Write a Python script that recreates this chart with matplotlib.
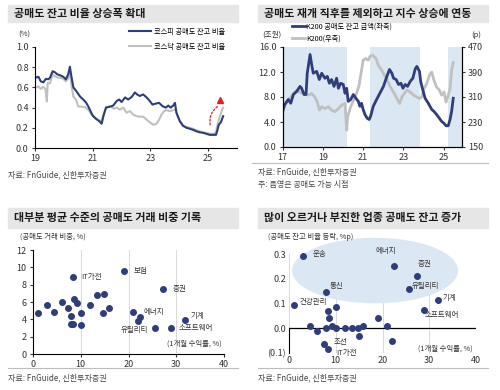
import numpy as np
import matplotlib.pyplot as plt
from matplotlib.patches import Rectangle, Ellipse
from matplotlib.lines import Line2D

plt.rcParams['font.family'] = ['Noto Sans CJK KR', 'DejaVu Sans']
plt.rcParams['axes.unicode_minus'] = False

# --- chart 1: short balance ratio (%), KOSPI / KOSDAQ
kospi_t = [2019.00, 2019.12, 2019.20, 2019.29, 2019.38, 2019.46, 2019.52, 2019.61, 2019.69, 2019.77,
           2019.87, 2019.98, 2020.07, 2020.15, 2020.21, 2020.26, 2020.33, 2020.44, 2020.56, 2020.67,
           2020.77, 2020.85, 2020.90, 2021.00, 2021.11, 2021.23, 2021.31, 2021.37, 2021.46, 2021.60,
           2021.71, 2021.83, 2021.92, 2022.00, 2022.12, 2022.23, 2022.35, 2022.46, 2022.54, 2022.63,
           2022.75, 2022.87, 2022.98, 2023.07, 2023.19, 2023.30, 2023.42, 2023.53, 2023.62, 2023.70,
           2023.79, 2023.85, 2023.90, 2024.02, 2024.13, 2024.25, 2024.37, 2024.48, 2024.60, 2024.71,
           2024.83, 2024.94, 2025.06, 2025.17, 2025.27, 2025.31, 2025.37, 2025.44, 2025.50, 2025.52]
kospi_v = [0.695, 0.705, 0.66, 0.65, 0.685, 0.68, 0.695, 0.76, 0.75, 0.73,
           0.72, 0.705, 0.68, 0.73, 0.805, 0.71, 0.60, 0.56, 0.51, 0.48,
           0.45, 0.41, 0.38, 0.32, 0.29, 0.265, 0.24, 0.315, 0.40, 0.41,
           0.42, 0.465, 0.48, 0.455, 0.50, 0.48, 0.505, 0.55, 0.53, 0.515,
           0.53, 0.50, 0.465, 0.43, 0.44, 0.447, 0.414, 0.40, 0.42, 0.40,
           0.42, 0.447, 0.35, 0.265, 0.22, 0.20, 0.19, 0.18, 0.165, 0.155,
           0.15, 0.14, 0.13, 0.13, 0.13, 0.165, 0.23, 0.255, 0.30, 0.315]

kosdaq_t = [2019.00, 2019.12, 2019.20, 2019.29, 2019.36, 2019.41, 2019.44, 2019.52, 2019.61, 2019.69,
            2019.77, 2019.87, 2019.98, 2020.07, 2020.15, 2020.21, 2020.27, 2020.33, 2020.42, 2020.50,
            2020.62, 2020.73, 2020.85, 2020.96, 2021.08, 2021.19, 2021.31, 2021.39, 2021.48, 2021.62,
            2021.73, 2021.83, 2021.94, 2022.06, 2022.17, 2022.29, 2022.40, 2022.52, 2022.63, 2022.75,
            2022.87, 2022.98, 2023.10, 2023.21, 2023.30, 2023.38, 2023.47, 2023.56, 2023.67, 2023.79,
            2023.88, 2023.94, 2024.02, 2024.13, 2024.25, 2024.37, 2024.48, 2024.60, 2024.71, 2024.83,
            2024.94, 2025.06, 2025.17, 2025.27, 2025.31, 2025.37, 2025.43, 2025.50, 2025.52]
kosdaq_v = [0.595, 0.61, 0.585, 0.605, 0.585, 0.46, 0.645, 0.64, 0.73, 0.71,
            0.70, 0.695, 0.685, 0.66, 0.69, 0.75, 0.61, 0.51, 0.48, 0.41,
            0.41, 0.405, 0.38, 0.33, 0.30, 0.275, 0.265, 0.35, 0.405, 0.41,
            0.39, 0.40, 0.38, 0.40, 0.35, 0.365, 0.33, 0.315, 0.31, 0.31,
            0.28, 0.255, 0.23, 0.24, 0.28, 0.33, 0.365, 0.375, 0.365, 0.375,
            0.38, 0.315, 0.265, 0.22, 0.21, 0.20, 0.19, 0.175, 0.165, 0.155,
            0.15, 0.14, 0.14, 0.15, 0.215, 0.28, 0.33, 0.39, 0.40]

# --- chart 2: K200 short balance (trn won) and KOSPI200 (pt)
bal_t = [2017.00, 2017.10, 2017.28, 2017.40, 2017.53, 2017.70, 2017.86, 2017.94, 2018.06, 2018.16,
         2018.22, 2018.36, 2018.44, 2018.52, 2018.69, 2018.82, 2018.94, 2019.10, 2019.22, 2019.32,
         2019.43, 2019.55, 2019.68, 2019.77, 2019.88, 2020.01, 2020.10, 2020.18, 2020.26, 2020.38,
         2020.51, 2020.64, 2020.76, 2020.84, 2020.92, 2021.00, 2021.09, 2021.20, 2021.30, 2021.37,
         2021.50, 2021.67, 2021.83, 2022.01, 2022.18, 2022.31, 2022.43, 2022.51, 2022.64, 2022.76,
         2022.88, 2022.98, 2023.09, 2023.21, 2023.34, 2023.47, 2023.59, 2023.67, 2023.80, 2023.86,
         2023.96, 2024.08, 2024.24, 2024.41, 2024.52, 2024.65, 2024.79, 2024.90, 2025.02, 2025.12,
         2025.23, 2025.32, 2025.40, 2025.48]
bal_v = [5.7, 6.8, 7.6, 7.0, 8.4, 8.9, 9.7, 9.4, 8.4, 8.4,
         11.8, 14.8, 13.2, 11.8, 12.1, 10.8, 11.8, 11.0, 11.3, 10.2,
         10.8, 9.7, 11.0, 9.4, 10.2, 10.0, 8.6, 9.4, 7.3, 7.6,
         8.4, 7.8, 7.3, 6.5, 7.0, 6.0, 5.2, 4.6, 4.4, 4.9,
         6.5, 7.6, 8.6, 9.7, 11.3, 12.4, 11.8, 11.0, 10.8, 10.0,
         10.2, 9.4, 10.0, 9.7, 10.5, 11.0, 12.5, 12.9, 12.1, 10.5,
         9.2, 7.8, 7.0, 6.0, 5.7, 5.2, 4.6, 4.1, 3.8, 3.4,
         3.4, 4.4, 5.7, 7.8]

k200_t = [2017.00, 2017.10, 2017.28, 2017.53, 2017.70, 2017.86, 2018.06, 2018.28, 2018.44, 2018.60,
          2018.72, 2018.82, 2018.94, 2019.10, 2019.27, 2019.43, 2019.60, 2019.77, 2019.93, 2020.10,
          2020.18, 2020.23, 2020.35, 2020.48, 2020.64, 2020.80, 2020.92, 2021.00, 2021.14, 2021.25,
          2021.34, 2021.47, 2021.64, 2021.75, 2021.92, 2022.01, 2022.18, 2022.35, 2022.51, 2022.68,
          2022.81, 2022.93, 2023.04, 2023.18, 2023.34, 2023.51, 2023.67, 2023.80, 2023.91, 2024.03,
          2024.16, 2024.30, 2024.41, 2024.52, 2024.65, 2024.79, 2024.90, 2025.02, 2025.12, 2025.23,
          2025.32, 2025.40, 2025.48]
k200_v = [268, 284, 300, 321, 332, 325, 321, 316, 321, 310,
          294, 268, 279, 273, 279, 268, 263, 273, 284, 289,
          204, 247, 273, 294, 316, 348, 396, 428, 433, 428,
          440, 444, 433, 412, 396, 385, 367, 342, 326, 305,
          289, 310, 321, 332, 326, 316, 310, 305, 310, 337,
          353, 380, 390, 364, 342, 332, 316, 326, 294, 316,
          337, 396, 420]

# periods when short selling was allowed
shade_start = [2017.0, 2021.33, 2025.2]
shade_end = [2020.2, 2023.85, 2025.9]

# --- charts 3, 4: sectors
ret_1m = [1.1, 3.0, 4.4, 6.0, 7.4, 8.0, 8.0, 8.3, 8.3, 8.65, 9.2, 10.05, 10.05,
          11.9, 13.5, 14.7, 14.9, 15.9, 19.1, 20.9, 22.0, 22.4, 25.6, 27.3, 28.9, 31.8]
short_trade = [4.7, 5.7, 4.9, 6.0, 5.3, 4.35, 3.5, 3.5, 8.9, 6.3, 5.9, 4.7, 3.35,
               5.7, 6.8, 4.7, 6.9, 5.3, 9.6, 4.8, 3.8, 4.3, 3.0, 7.55, 3.0, 3.9]
bal_chg = [0.095, 0.29, 0.011, -0.012, -0.063, 0.0, 0.148, 0.071, -0.083, 0.042, 0.011, 0.085, 0.0,
           0.0, 0.0, 0.0, -0.032, 0.011, 0.042, 0.011, -0.053, 0.25, 0.158, 0.21, 0.074, 0.116]
sector = ['건강관리', '운송', '', '', '조선', '', '통신', '', 'IT가전', '', '', '', '',
          '', '', '', '', '', '보험', '', '', '에너지', '유틸리티', '증권', '소프트웨어', '기계']

labels_trade = ['IT가전', '보험', '증권', '에너지', '기계', '소프트웨어', '유틸리티']
labels_chg = ['운송', '에너지', '증권', '유틸리티', '기계', '소프트웨어', '건강관리', '통신', '조선', 'IT가전']

NAVY = '#2f3e7b'
GRAY = '#c0c0c0'
SHADE = '#dce7f4'
TXT = '#333333'
W, H = 500, 390

fig = plt.figure(figsize=(5, 3.9), dpi=100)


def rect(x0, y0, x1, y1):
    return [x0 / W, 1 - y1 / H, (x1 - x0) / W, (y1 - y0) / H]


def ftext(x, y, s, **kw):
    kw.setdefault('color', TXT)
    kw.setdefault('va', 'center')
    fig.text(x / W, 1 - y / H, s, **kw)


def header(x0, x1, y0, y1, title):
    fig.patches.append(Rectangle((x0 / W, 1 - y1 / H), (x1 - x0) / W, (y1 - y0) / H,
                                 transform=fig.transFigure, color='#e6e6e6', zorder=0))
    ftext(x0 + 6, (y0 + y1) / 2, title, fontsize=7.9, fontweight='bold', color='#1a1a1a')


def hline(x0, x1, y):
    fig.add_artist(Line2D([x0 / W, x1 / W], [1 - y / H] * 2, color='#bdbdbd', lw=0.8))


def style(ax):
    for s in ['top', 'right']:
        ax.spines[s].set_visible(False)
    for s in ax.spines.values():
        s.set_linewidth(0.8)
    ax.tick_params(labelsize=6.5, length=2.5, width=0.8, colors=TXT, pad=2)


# ---------------- top left
header(8, 238, 5, 22, '공매도 잔고 비율 상승폭 확대')
ax1 = fig.add_axes(rect(35, 47, 237, 148))
style(ax1)
ax1.plot(kosdaq_t, kosdaq_v, color=GRAY, lw=1.5, label='코스닥 공매도 잔고 비율')
ax1.plot(kospi_t, kospi_v, color=NAVY, lw=1.5, label='코스피 공매도 잔고 비율')
ax1.set_xlim(2019, 2026)
ax1.set_ylim(0, 1.0)
ax1.set_xticks([2019, 2021, 2023, 2025], ['19', '21', '23', '25'])
ax1.set_yticks(np.arange(0, 1.01, 0.2), [f'{v:.1f}' for v in np.arange(0, 1.01, 0.2)])
h, l = ax1.get_legend_handles_labels()
ax1.legend(h[::-1], l[::-1], frameon=False, fontsize=5.2, loc='upper left',
           bbox_to_anchor=(129 / W, 1 - 28 / H), bbox_transform=fig.transFigure,
           borderpad=0, borderaxespad=0, handlelength=3.1, handletextpad=0.3, labelspacing=0.95)
ax1.annotate('', xy=(2025.32, 0.41), xytext=(2025.07, 0.23),
             arrowprops=dict(arrowstyle='-', ls=(0, (1.5, 1.5)), lw=0.9, color='#e0201c',
                             connectionstyle='arc3,rad=-0.3', shrinkA=0, shrinkB=0))
ax1.plot([2025.42], [0.48], marker='^', ms=5, color='#e0201c', clip_on=False)
ftext(24, 35, '(%)', fontsize=5.5, ha='center')
ftext(8, 175, '자료: FnGuide, 신한투자증권', fontsize=5.8, color='#444444')

# ---------------- top right
header(258, 488, 5, 22, '공매도 재개 직후를 제외하고 지수 상승에 연동')
ax2 = fig.add_axes(rect(282.7, 47, 461.7, 147))
ax2r = ax2.twinx()
for s0, s1 in zip(shade_start, shade_end):
    ax2r.axvspan(s0, s1, color=SHADE, lw=0)
l2, = ax2r.plot(k200_t, k200_v, color=GRAY, lw=2.0)
l1, = ax2.plot(bal_t, bal_v, color=NAVY, lw=2.0)
ax2.set_zorder(ax2r.get_zorder() + 1)
ax2.patch.set_visible(False)
ax2.spines['top'].set_visible(False)
ax2r.spines['top'].set_visible(False)
for a in (ax2, ax2r):
    for s in a.spines.values():
        s.set_linewidth(0.8)
    a.tick_params(labelsize=6.5, length=2.5, width=0.8, colors=TXT, pad=2)
ax2.set_xlim(2017, 2025.9)
ax2.set_ylim(0, 16)
ax2r.set_ylim(150, 470)
ax2.set_xticks([2017, 2019, 2021, 2023, 2025], ['17', '19', '21', '23', '25'])
ax2.set_yticks([0, 4, 8, 12, 16], ['0.0', '4.0', '8.0', '12.0', '16.0'])
ax2r.set_yticks([150, 230, 310, 390, 470])
ax2.legend([l1, l2], ['K200 공매도 잔고 금액(좌축)', 'K200(우축)'], frameon=False, fontsize=5.2,
           loc='upper left', bbox_to_anchor=(292 / W, 1 - 23 / H), bbox_transform=fig.transFigure,
           borderpad=0, borderaxespad=0, handlelength=1.8, handletextpad=0.2, labelspacing=0.5)
ftext(272, 35, '(조원)', fontsize=5.5, ha='center')
ftext(476, 35, '(p)', fontsize=5.5, ha='center')
hline(252, 488, 163)
ftext(258, 172, '자료: FnGuide, 신한투자증권', fontsize=5.8, color='#444444')
ftext(258, 184, '주: 음영은 공매도 가능 시점', fontsize=5.8, color='#444444')

# ---------------- bottom left
header(8, 238, 208, 228, '대부분 평균 수준의 공매도 거래 비중 기록')
ax3 = fig.add_axes(rect(33, 250, 224, 354))
style(ax3)
ax3.grid(axis='x', color='#d9d9d9', lw=0.7)
ax3.set_axisbelow(True)
ax3.scatter(ret_1m, short_trade, s=16, color=NAVY, zorder=3, clip_on=False)
ax3.set_xlim(0, 40)
ax3.set_ylim(0, 12)
ax3.set_xticks([0, 10, 20, 30, 40])
ax3.set_yticks(np.arange(0, 13, 2))
off3 = {'IT가전': (6.5, 0, 'left'), '보험': (6.5, 0, 'left'), '증권': (6.9, 0, 'left'),
        '에너지': (2.7, 3.7, 'left'), '기계': (3.8, 3.1, 'left'), '소프트웨어': (5.2, 0, 'left'),
        '유틸리티': (-5.2, -1.2, 'right')}
for name in labels_trade:
    i = sector.index(name)
    dx, dy, ha = off3[name]
    ax3.annotate(name, (ret_1m[i], short_trade[i]), xytext=(dx, dy), textcoords='offset points',
                 fontsize=5.4, ha=ha, va='center', color=TXT)
ftext(20, 237, '(공매도 거래 비중, %)', fontsize=5.3)
ftext(222, 344, '(1개월 수익률, %)', fontsize=5.3, ha='right')
hline(8, 238, 368)
ftext(8, 378, '자료: FnGuide, 신한투자증권', fontsize=5.8, color='#444444')

# ---------------- bottom right
header(258, 488, 208, 228, '많이 오르거나 부진한 업종 공매도 잔고 증가')
ax4 = fig.add_axes(rect(289, 254, 476, 353))
style(ax4)
ax4.spines['bottom'].set_visible(False)
ax4.spines['left'].set_bounds(-0.1, 0.0)
ax4.tick_params(axis='x', length=0)
ax4.tick_params(axis='y', length=0)
ax4.grid(axis='x', color='#d9d9d9', lw=0.7)
ax4.set_axisbelow(True)
ax4.add_patch(Ellipse((18.4, 0.233), 35.5, 0.265, color=SHADE, lw=0, clip_on=False, zorder=1))
ax4.axhline(0, color='black', lw=0.9, zorder=2)
ax4.scatter(ret_1m, bal_chg, s=16, color=NAVY, zorder=3, clip_on=False)
ax4.set_xlim(0, 40)
ax4.set_ylim(-0.1, 0.3)
ax4.set_xticks([0, 10, 20, 30, 40])
ax4.set_yticks([-0.1, 0, 0.1, 0.2, 0.3], ['(0.1)', '0.0', '0.1', '0.2', '0.3'])
off4 = {'운송': (7, 1.9, 'left'), '에너지': (-5.4, 11, 'center'), '증권': (0.7, 8.7, 'left'),
        '유틸리티': (2, 2.1, 'left'), '기계': (3.7, 1.1, 'left'), '소프트웨어': (0.7, -3.9, 'left'),
        '건강관리': (4.2, 1.9, 'left'), '통신': (2.6, 3.7, 'left'), '조선': (7.1, 1.2, 'left'),
        'IT가전': (5.9, -3.2, 'left')}
for name in labels_chg:
    i = sector.index(name)
    dx, dy, ha = off4[name]
    ax4.annotate(name, (ret_1m[i], bal_chg[i]), xytext=(dx, dy), textcoords='offset points',
                 fontsize=5.4, ha=ha, va='center', color=TXT)
ftext(268, 237, '(공매도 잔고 비율 등락, %p)', fontsize=5.3)
ftext(473, 349, '(1개월 수익률, %)', fontsize=5.3, ha='right')
hline(258, 488, 368)
ftext(258, 378, '자료: FnGuide, 신한투자증권', fontsize=5.8, color='#444444')

fig.savefig('out.png', dpi=100)
